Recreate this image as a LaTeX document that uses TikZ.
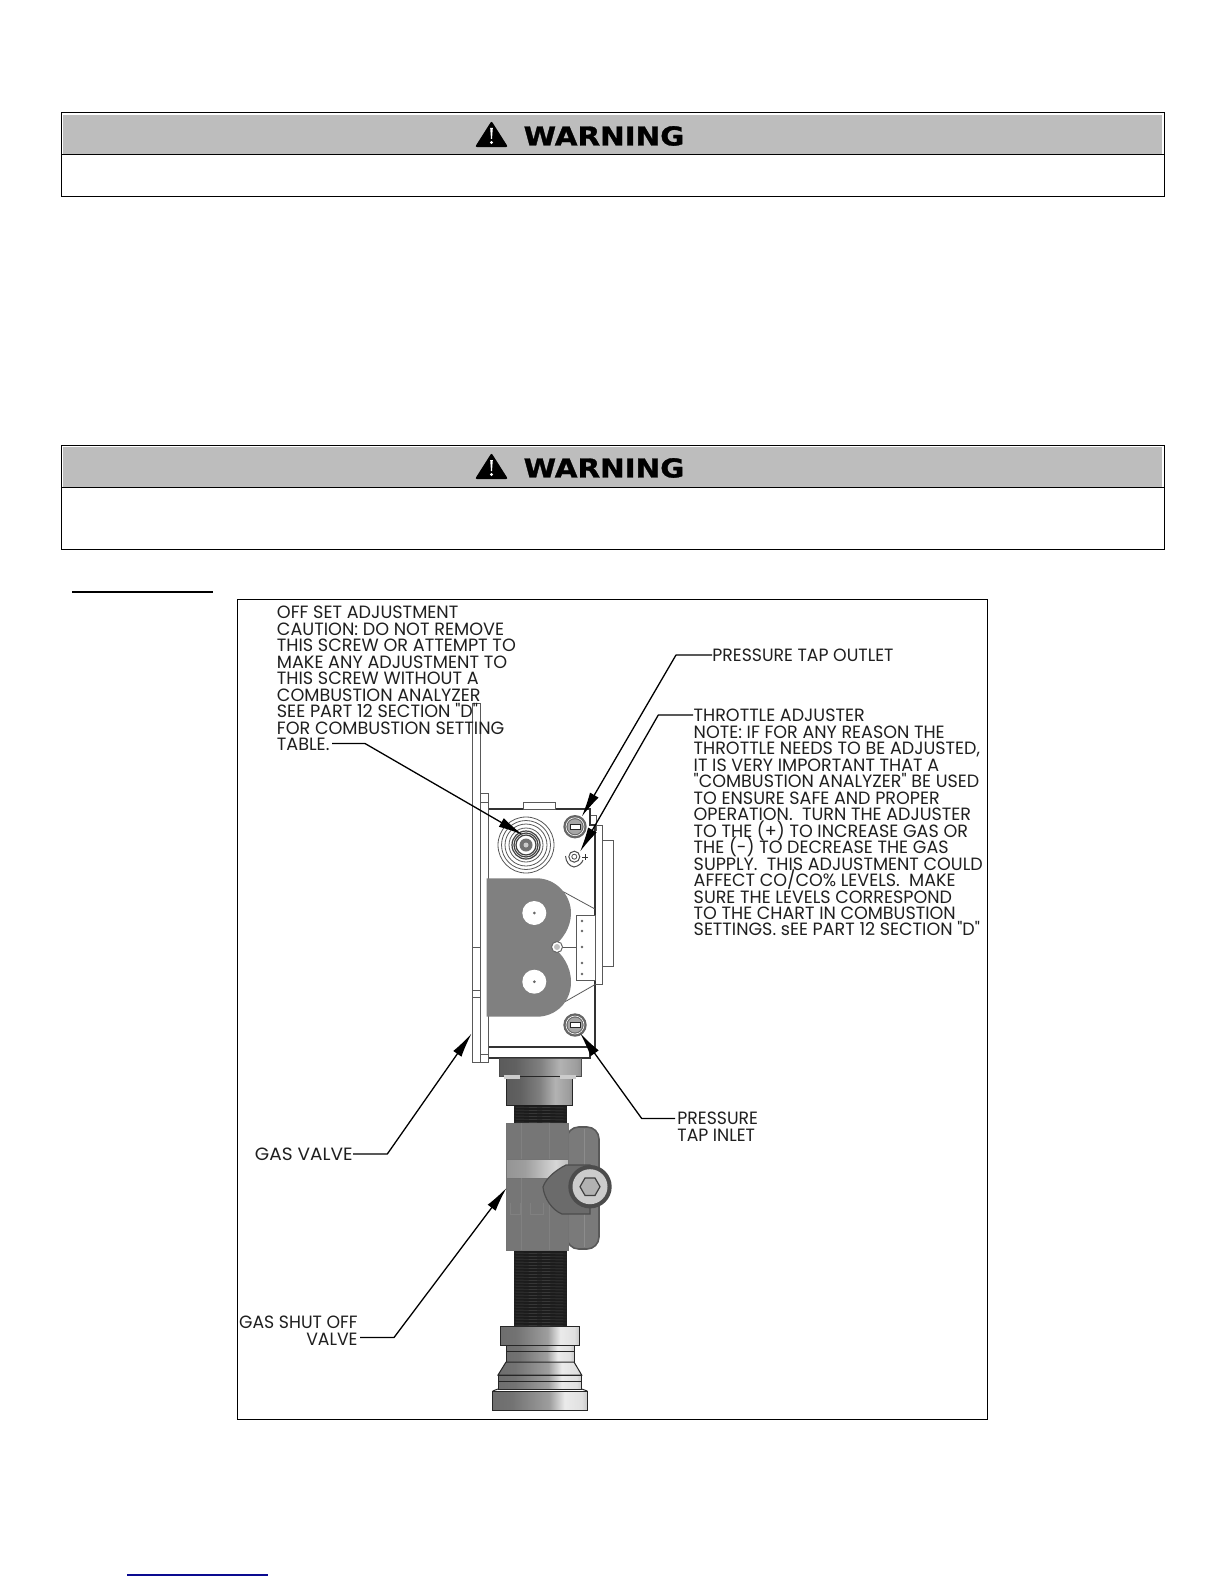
\documentclass[tikz,border=0pt]{standalone}
\usepackage{fontspec}
\usetikzlibrary{arrows.meta}
\lineskiplimit=-100pt\relax
\newfontfamily\lblfontA[FakeStretch=1.04]{Poppins}
\newfontfamily\lblfontB[FakeStretch=0.985]{Poppins}
\newfontfamily\lblfontC[FakeStretch=0.97]{Poppins}
\newfontfamily\lblfontD[FakeStretch=0.99]{Poppins}
\newfontfamily\warnfont[FakeStretch=1.13,FakeBold=1.2]{DejaVu Sans Bold}
\definecolor{hdrgrey}{HTML}{BDBDBD}
\definecolor{bgrey}{HTML}{808080}
\definecolor{valvegrey}{HTML}{767676}
\definecolor{threadblk}{HTML}{1C1C1C}
\definecolor{linkblue}{HTML}{0A0A90}
\pgfdeclarehorizontalshading{metal}{100bp}{
 color(0bp)=(black!62); color(35bp)=(black!55); color(55bp)=(black!38);
 color(63bp)=(black!8); color(72bp)=(black!12); color(85bp)=(black!52); color(100bp)=(black!65)}
\pgfdeclarehorizontalshading{darkmetal}{100bp}{
 color(0bp)=(black!70); color(35bp)=(black!62); color(50bp)=(black!50);
 color(62bp)=(black!30); color(72bp)=(black!38); color(85bp)=(black!60); color(100bp)=(black!70)}
\pgfdeclarehorizontalshading{bandmetal}{100bp}{
 color(0bp)=(black!48); color(40bp)=(black!38); color(65bp)=(black!16); color(85bp)=(black!35); color(100bp)=(black!50)}
\tikzset{
 x=.5pt,y=-.5pt,
 frame/.style={draw=black,line width=.5pt},
 hdr/.style={fill=hdrgrey,draw=none},
 warntext/.style={inner sep=0pt,anchor=center,font=\warnfont\fontsize{13}{13}\selectfont},
 lbl/.style={inner sep=0pt,text=black!88},
 lblA/.style={lbl,font=\lblfontA\fontsize{8.9}{8.23}\selectfont},
 lblB/.style={lbl,font=\lblfontB\fontsize{8.9}{8.23}\selectfont},
 lblC/.style={lbl,font=\lblfontC\fontsize{8.9}{8.23}\selectfont},
 lblD/.style={lbl,font=\lblfontD\fontsize{8.9}{8.23}\selectfont},
 leader/.style={draw=black,line width=.65pt,line join=round},
 tipline/.style={leader,-{Latex[length=12.5pt,width=5pt]}},
 part/.style={draw=black!80,line width=.55pt,fill=white},
 thin part/.style={draw=black!65,line width=.4pt},
 metalpart/.style={draw=black!85,line width=.5pt,shading=metal},
 thread/.style={draw=black!72,line width=.2pt},
}
\begin{document}
\begin{tikzpicture}
\useasboundingbox (0,0) rectangle (1224,1584);
% warning boxes
\foreach \t/\m/\b/\n in {113/154.5/196/a,445/487/549/b}{
 \fill[hdr] (63,\t+2) rectangle (1162,\m);
 \draw[frame] (61.5,\t) rectangle (1164,\b);
 \draw[frame] (61.5,\m) -- (1164,\m);
 \fill[black,rounded corners=1pt] (491.5,\t+8) -- (508,\t+34) -- (475,\t+34) -- cycle;
 \fill[white] (490.2,\t+15) -- (492.8,\t+15) -- (492,\t+26) -- (491,\t+26) -- cycle;
 \fill[white] (491.5,\t+29.5) circle (1.7);
 \node[warntext] (warn\n) at (604,\t+23) {WARNING};
}
% heading rule and bottom link rule
\draw[black,line width=1pt] (72,592) -- (213,592);
\draw[linkblue,line width=.8pt] (127,1575) -- (268,1575);
% figure frame
\draw[frame] (237,599) rectangle (987,1419);

% === gas valve ===
\draw[thin part,fill=white] (595,825) rectangle (602,984);
\draw[thin part,fill=white] (602,840) rectangle (613,966);
\draw[thin part,fill=white] (590,815) rectangle (596,830);
\draw[part] (488,809) -- (590,809) -- (590,825) -- (595,825) -- (595,1047) -- (590,1047) -- (590,1058) -- (488,1058) -- cycle;
\draw[part] (488,1047) -- (590,1047);
\draw[thin part,fill=white] (523.3,802.5) rectangle (555,809);
\draw[thin part,fill=white] (472.3,703) rectangle (480.7,1062);
\draw[thin part] (472.3,947) -- (480.7,947) (472.3,990) -- (480.7,990) (472.3,997) -- (480.7,997);
\draw[thin part,fill=white] (480.7,793) rectangle (488.3,1062);
\draw[thin part] (480.7,802) -- (488.3,802) (480.7,1054) -- (488.3,1054);
% offset dial
\foreach \r in {28,24.5,21,17}{\draw[thin part,fill=white] (526,845) circle (\r);}
\foreach \r in {14,12,10}{\draw[black!75,line width=.6pt,fill=white] (526,845) circle (\r);}
\fill[black!55] (526,845) circle (6.5);
\fill[black!20] (526,845) circle (2.5);
% pressure taps and throttle
\foreach \y in {826.7,1025}{
 \fill[black!60] (575,\y) circle (11.7);
 \draw[white,line width=.3pt] (575,\y) circle (9);
 \fill[black!35] (575,\y) circle (7.5);
 \draw[black!85,fill=white,line width=.4pt] (570,\y-2.5) rectangle (580,\y+2.5);
}
\draw[black!70,line width=.5pt,fill=white] (574.3,856.7) circle (5.5);
\draw[black!70,line width=.4pt] (574.3,856.7) circle (2.5);
\draw[black!70,line width=.5pt] (565.5,856) .. controls (566,862) and (569,866) .. (574,867) .. controls (579,866) and (582,863) .. (583,860);
\draw[black!80,line width=.5pt] (582,857) -- (588,857) (585,854) -- (585,860);
% connector block
\draw[thin part] (563.3,891.7) -- (595,909) (565,1001.7) -- (596,984);
\draw[thin part,fill=white] (576,915) rectangle (595,980);
\draw[thin part] (560,947) -- (576,947);
\foreach \y in {921,931,947,963,974}{\fill[black!60] (582,\y) circle (1.4);}
% grey plate
\fill[bgrey] (486.7,878.3) -- (536.7,878.3) .. controls (556,878.3) and (571,895) .. (571,913) .. controls (571,928) and (562,940) .. (553,947) .. controls (562,954) and (571,966) .. (571,982) .. controls (571,1002) and (556,1016.7) .. (536.7,1016.7) -- (486.7,1016.7) -- cycle;
\foreach \y in {913,981.7}{
 \fill[white] (534.3,\y) circle (12);
 \fill[black!60] (534.3,\y) circle (1.5);
}
\draw[black!60,fill=white,line width=.5pt] (557,947) circle (5.5);
\fill[black!25] (557,947) circle (3);

% === piping ===
\shade[draw=black!70,line width=.5pt,shading=darkmetal] (499.3,1058) rectangle (581,1076);
\shade[metalpart,shading=darkmetal] (506.7,1076) rectangle (572.3,1105);
\fill[black!20] (504,1075) rectangle (520,1079);
\fill[black!20] (560,1075) rectangle (576,1079);
\fill[threadblk] (514,1105) rectangle (566.7,1123);
\foreach \y in {1107,1110,...,1122}{\draw[thread] (514,\y) -- (566.7,\y+1);}
\fill[threadblk] (514,1250) rectangle (566.7,1327);
\foreach \y in {1253,1256,...,1325}{\draw[thread] (514,\y) -- (566.7,\y+1);}
% valve handle back
\draw[black!65,fill=black!52,line width=.8pt,rounded corners=6pt] (566.7,1127) rectangle (599,1249);
\draw[black!45,line width=.5pt] (584,1129) -- (584,1247);
% shut-off valve body
\draw[black!55,fill=valvegrey,line width=.5pt] (506.7,1123) rectangle (568,1250.7);
\shade[shading=bandmetal,draw=black!55,line width=.4pt] (506.7,1159) rectangle (568,1178);
\draw[black!50,line width=.5pt] (521.7,1123) -- (521.7,1159) (549,1123) -- (549,1159) (521.7,1178) -- (521.7,1250) (549,1178) -- (549,1250);
\draw[black!50,line width=.5pt] (510.7,1203) -- (510.7,1214) -- (520,1214) -- (520,1203) (530,1203) -- (530,1214) -- (543,1214) -- (543,1203);
\draw[black!70,fill=black!58,line width=.6pt] (566,1165) .. controls (556,1170) and (546,1178) .. (543,1187) .. controls (544,1198) and (552,1210) .. (562,1214) -- (590,1214) -- (590,1165) -- cycle;
\fill[black!70] (590,1186.7) circle (21.7);
\fill[black!20] (590,1186.7) circle (17.5);
\draw[black!75,fill=black!30,line width=.6pt] (600,1186.7) -- (595,1195.4) -- (585,1195.4) -- (580,1186.7) -- (585,1178) -- (595,1178) -- cycle;
% lower fitting
\shade[metalpart] (500.7,1326.7) rectangle (579,1345);
\shade[metalpart] (506,1345) rectangle (574,1362);
\draw[black!85,line width=.5pt] (506,1351) -- (574,1351);
\shade[metalpart] (506,1362) -- (574,1362) -- (581.7,1375) -- (498,1375) -- cycle;
\shade[metalpart] (498,1375) rectangle (581.7,1389);
\draw[black!85,line width=.5pt] (498,1381) -- (581.7,1381);
\shade[metalpart] (492.7,1391) rectangle (587.3,1410);
\draw[black!85,line width=.5pt] (498,1389) -- (492.7,1391) (581.7,1389) -- (587.3,1391);

% === labels ===
\node[lblD,align=left,anchor=north west] (lblOffset) at (276.5,606) {OFF SET ADJUSTMENT\\CAUTION: DO NOT REMOVE\\THIS SCREW OR ATTEMPT TO\\MAKE ANY ADJUSTMENT TO\\THIS SCREW WITHOUT A\\COMBUSTION ANALYZER\\SEE PART 12 SECTION "D"\\FOR COMBUSTION SETTING\\TABLE.};
\node[lblC,anchor=west] (lblOutlet) at (712,655) {PRESSURE TAP OUTLET};
\node[lblB,align=left,anchor=north west] (lblThrottle) at (693.3,709) {THROTTLE ADJUSTER\\NOTE: IF FOR ANY REASON THE\\THROTTLE NEEDS TO BE ADJUSTED,\\IT IS VERY IMPORTANT THAT A\\"COMBUSTION ANALYZER" BE USED\\TO ENSURE SAFE AND PROPER\\OPERATION.\ \ TURN THE ADJUSTER\\TO THE (+) TO INCREASE GAS OR\\THE (-) TO DECREASE THE GAS\\SUPPLY.\ \ THIS ADJUSTMENT COULD\\AFFECT CO/CO\% LEVELS.\ \ MAKE\\SURE THE LEVELS CORRESPOND\\TO THE CHART IN COMBUSTION\\SETTINGS. sEE PART 12 SECTION "D"};
\node[lblC,align=left,anchor=north west] (lblInlet) at (677,1112) {PRESSURE\\TAP INLET};
\node[lblA,anchor=east] (lblValve) at (353,1154) {GAS VALVE};
\node[lblC,align=right,anchor=north east] (lblShut) at (358,1316) {GAS SHUT OFF\\VALVE};

% === leaders ===
\coordinate (offStart) at (332,743.5);
\coordinate (offBend) at (365,743.5);
\coordinate (offTip) at (523,835);
\coordinate (outBend) at (676,655);
\coordinate (outTip) at (581.7,816.7);
\coordinate (thrStart) at (693,715);
\coordinate (thrBend) at (658.3,715);
\coordinate (thrTip) at (580,851.7);
\coordinate (inStart) at (675,1118.5);
\coordinate (inBend) at (641.7,1118.5);
\coordinate (inTip) at (580,1033);
\coordinate (valBend) at (387.3,1154);
\coordinate (valTip) at (471.7,1033.3);
\coordinate (shutStart) at (360,1337.5);
\coordinate (shutBend) at (394,1337.5);
\coordinate (shutTip) at (506.7,1187.7);
\draw[tipline] (offStart) -- (offBend) -- (offTip);
\draw[tipline] (lblOutlet.west) -- (outBend) -- (outTip);
\draw[tipline] (thrStart) -- (thrBend) -- (thrTip);
\draw[tipline] (inStart) -- (inBend) -- (inTip);
\draw[tipline] (lblValve.east) -- (valBend) -- (valTip);
\draw[tipline] (shutStart) -- (shutBend) -- (shutTip);
\end{tikzpicture}
\end{document}
